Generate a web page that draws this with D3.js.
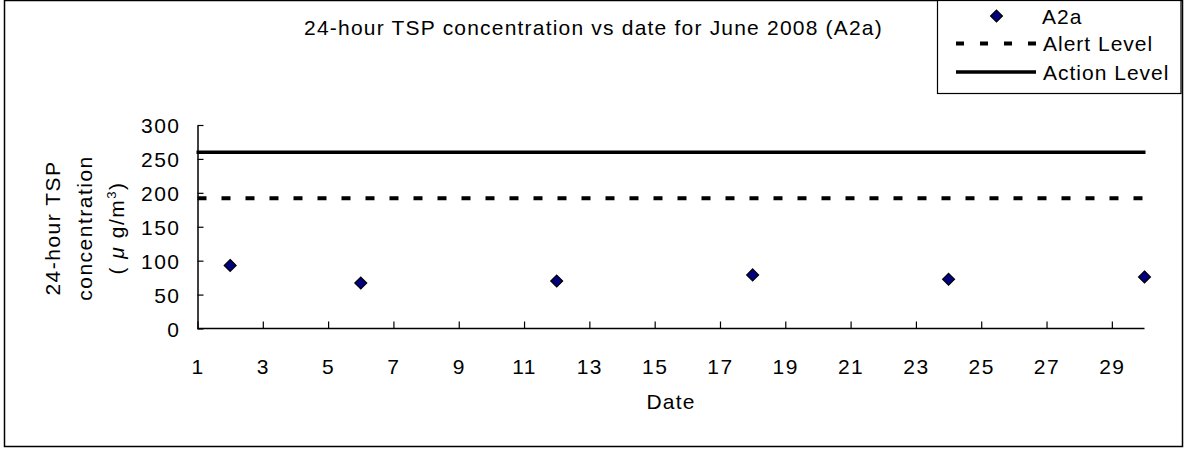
<!DOCTYPE html>
<html>
<head>
<meta charset="utf-8">
<script src="https://cdn.jsdelivr.net/npm/d3@7"></script>
<style>
  html, body { margin: 0; padding: 0; background: #fff; }
  svg { display: block; font-family: "Liberation Sans", Arial, sans-serif; }
</style>
</head>
<body>
<svg id="chart" width="1184" height="450"></svg>
<script>
// ---- data ----
const dates = [2, 6, 12, 18, 24, 30];
const tsp = [93, 67, 70, 79, 72.5, 76];
const alertLevel = 192;
const actionLevel = 260;
const xTicks = [1, 3, 5, 7, 9, 11, 13, 15, 17, 19, 21, 23, 25, 27, 29];
const yTicks = [0, 50, 100, 150, 200, 250, 300];
const seriesNames = ["A2a", "Alert Level", "Action Level"];
const titleText = "24-hour TSP concentration vs date for June 2008 (A2a)";
const yTitleLines = ["24-hour TSP", "concentration"];
const xTitle = "Date";

const svg = d3.select("#chart");
const FS = 21;

// outer border
svg.append("rect").attr("x", 4.5).attr("y", 0.5).attr("width", 1178).attr("height", 446)
  .attr("fill", "#fff").attr("stroke", "#000").attr("stroke-width", 1.5);

const x = d3.scaleLinear().domain([1, 30]).range([197.5, 1144.5]);
const y = d3.scaleLinear().domain([0, 300]).range([328.5, 125]);

// axes
const gx = svg.append("g").attr("transform", `translate(0,${y(0)})`)
  .call(d3.axisBottom(x).tickValues(xTicks).tickSizeInner(-7).tickSizeOuter(0).tickPadding(31).tickFormat(d3.format("d")));
const gy = svg.append("g").attr("transform", `translate(${x(1)},0)`)
  .call(d3.axisLeft(y).tickValues(yTicks).tickSizeInner(-6).tickSizeOuter(0).tickPadding(17).tickFormat(d3.format("d")));
[gx, gy].forEach(g => {
  g.selectAll("path.domain").attr("stroke", "#000").attr("stroke-width", 1.5);
  g.selectAll(".tick line").attr("stroke", "#000").attr("stroke-width", 1.2);
  g.selectAll(".tick text").attr("font-size", FS).attr("fill", "#000")
    .attr("font-family", "Liberation Sans, Arial, sans-serif").attr("letter-spacing", 1.5);
});
gx.select("path.domain").attr("d", `M${x(1)},0H${x(30)}`);
gy.selectAll(".tick text").attr("dy", "0.36em");

// reference lines
svg.append("line").attr("x1", x(1)).attr("x2", x(30)).attr("y1", y(alertLevel)).attr("y2", y(alertLevel))
  .attr("stroke", "#000").attr("stroke-width", 4).attr("stroke-dasharray", "9,15");
svg.append("line").attr("x1", x(1) - 1).attr("x2", x(30) + 1).attr("y1", y(actionLevel)).attr("y2", y(actionLevel))
  .attr("stroke", "#000").attr("stroke-width", 3.5);

// points
const diamond = d3.symbol().type(d3.symbolDiamond2).size(90);
svg.append("g").selectAll("path").data(dates.map((d, i) => [d, tsp[i]])).join("path")
  .attr("d", diamond).attr("transform", d => `translate(${x(d[0])},${y(d[1])})`)
  .attr("fill", "#000080").attr("stroke", "#000").attr("stroke-width", 1.2);

// title
svg.append("text").attr("x", 593.5).attr("y", 35).attr("text-anchor", "middle")
  .attr("font-size", FS).attr("letter-spacing", 1.2).text(titleText);

// x title
svg.append("text").attr("x", x(15.5)).attr("y", 409).attr("text-anchor", "middle")
  .attr("font-size", FS).attr("letter-spacing", 1.2).text(xTitle);

// y title (rotated)
const cy = 228;
const yt = svg.append("g");
yt.append("text").attr("transform", `translate(60,${cy}) rotate(-90)`).attr("text-anchor", "middle")
  .attr("font-size", FS).attr("letter-spacing", 1.5).text(yTitleLines[0]);
yt.append("text").attr("transform", `translate(92,${cy}) rotate(-90)`).attr("text-anchor", "middle")
  .attr("font-size", FS).attr("letter-spacing", 1.5).text(yTitleLines[1]);
const l3 = yt.append("text").attr("transform", `translate(124,${cy}) rotate(-90)`).attr("text-anchor", "middle")
  .attr("font-size", FS).attr("letter-spacing", 1.5);
l3.append("tspan").text("( ");
l3.append("tspan").attr("font-style", "italic").text("μ");
l3.append("tspan").text(" g/m");
l3.append("tspan").attr("font-size", 13).attr("dy", -8).text("3");
l3.append("tspan").attr("dy", 8).text(")");

// legend
const lg = svg.append("g");
lg.append("rect").attr("x", 937.5).attr("y", 0.5).attr("width", 243.5).attr("height", 93)
  .attr("fill", "#fff").attr("stroke", "#000").attr("stroke-width", 1.2);
const rowsY = [16, 43.5, 72];
lg.append("path").attr("d", diamond).attr("transform", `translate(996.5,${rowsY[0]})`)
  .attr("fill", "#000080").attr("stroke", "#000").attr("stroke-width", 1.2);
lg.append("line").attr("x1", 956).attr("x2", 1036).attr("y1", rowsY[1]).attr("y2", rowsY[1])
  .attr("stroke", "#000").attr("stroke-width", 4).attr("stroke-dasharray", "8,16");
lg.append("line").attr("x1", 956).attr("x2", 1036).attr("y1", rowsY[2]).attr("y2", rowsY[2])
  .attr("stroke", "#000").attr("stroke-width", 3.5);
lg.selectAll("text.leg").data(seriesNames).join("text").attr("class", "leg")
  .attr("x", (d, i) => i === 0 ? 1042 : 1043).attr("y", (d, i) => rowsY[i] + 7.5)
  .attr("font-size", FS).attr("letter-spacing", 1).text(d => d);
</script>
</body>
</html>
